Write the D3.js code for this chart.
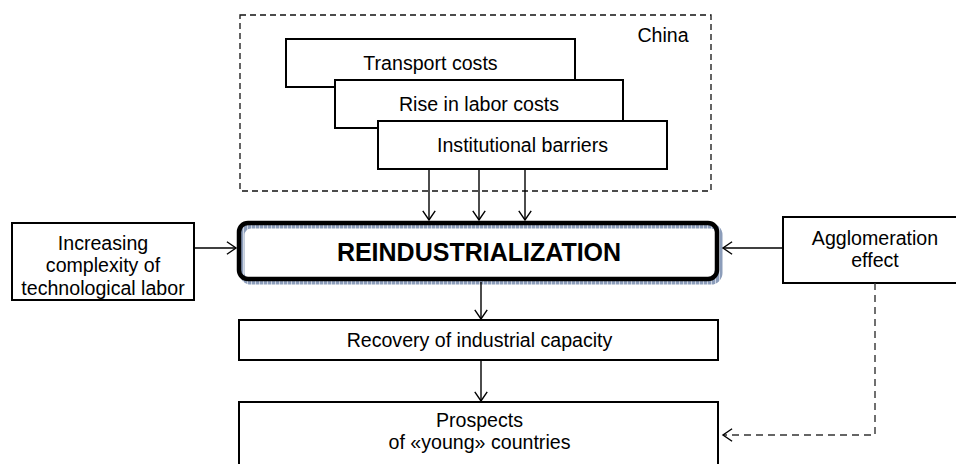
<!DOCTYPE html>
<html>
<head>
<meta charset="utf-8">
<script src="https://cdn.jsdelivr.net/npm/d3@7"></script>
<style>
  html, body { margin: 0; padding: 0; background: #fff; }
  svg { display: block; font-family: "Liberation Sans", Arial, sans-serif; }
</style>
</head>
<body>
<div id="chart"></div>
<script>
// labels of the diagram
var regionLabel = "China";
var chinaFactors = ["Transport costs", "Rise in labor costs", "Institutional barriers"];
var centerLabel = "REINDUSTRIALIZATION";
var leftLabel = ["Increasing", "complexity of", "technological labor"];
var rightLabel = ["Agglomeration", "effect"];
var chainLabels = [["Recovery of industrial capacity"], ["Prospects", "of \u00abyoung\u00bb countries"]];

var W = 956, H = 464;
var svg = d3.select("#chart").append("svg").attr("width", W).attr("height", H);

// layout (pixel positions)
var china = {x: 240, y: 15, w: 471, h: 176};
var stack = [{x: 286, y: 39, w: 289, h: 48}, {x: 335, y: 80, w: 288, h: 48}, {x: 378, y: 121, w: 289, h: 48}];
var center = {x: 239, y: 223, w: 478, h: 56};
var leftBox = {x: 12, y: 223, w: 182, h: 77};
var rightBox = {x: 783, y: 217, w: 184, h: 66};
var chain = [{x: 239, y: 320, w: 479, h: 40}, {x: 239, y: 402, w: 479, h: 75}];
var fs = 19.6, lh = 22.5;

var defs = svg.append("defs");
var pat = defs.append("pattern").attr("id", "hatch")
  .attr("patternUnits", "userSpaceOnUse").attr("width", 4).attr("height", 4);
pat.append("rect").attr("width", 4).attr("height", 4).attr("fill", "#8c9dba");
pat.append("rect").attr("x", 3).attr("width", 1).attr("height", 4).attr("fill", "#cfd7e4");

function box(b, sw) {
  svg.append("rect").attr("x", b.x).attr("y", b.y).attr("width", b.w).attr("height", b.h)
    .attr("fill", "#fff").attr("stroke", "#000").attr("stroke-width", sw || 2);
}
function label(lines, cx, cy, size, weight) {
  var t = svg.append("text").attr("text-anchor", "middle")
    .attr("font-size", size || fs).attr("font-weight", weight || "normal").attr("fill", "#000");
  var n = lines.length;
  lines.forEach(function(s, i) {
    t.append("tspan").attr("x", cx)
      .attr("y", cy + (i - (n - 1) / 2) * lh).attr("dy", "0.35em").text(s);
  });
}
function arrow(pts, dashed) {
  svg.append("path").attr("d", d3.line()(pts)).attr("fill", "none")
    .attr("stroke", dashed ? "#333" : "#000").attr("stroke-width", 1.4)
    .attr("stroke-dasharray", dashed ? "7,5" : null);
  var p = pts[pts.length - 1], q = pts[pts.length - 2];
  var a = Math.atan2(p[1] - q[1], p[0] - q[0]), L = 11, s = 0.6;
  var head = [[p[0] - L * Math.cos(a - s), p[1] - L * Math.sin(a - s)], p,
              [p[0] - L * Math.cos(a + s), p[1] - L * Math.sin(a + s)]];
  svg.append("path").attr("d", d3.line()(head)).attr("fill", "none")
    .attr("stroke", "#000").attr("stroke-width", 1.4);
}

// China region
svg.append("rect").attr("x", china.x).attr("y", china.y).attr("width", china.w).attr("height", china.h)
  .attr("fill", "none").attr("stroke", "#111").attr("stroke-width", 1.3).attr("stroke-dasharray", "6,4");
label([regionLabel], 663, 35);

stack.forEach(function(b, i) {
  box(b);
  label([chinaFactors[i]], b.x + b.w / 2, b.y + b.h / 2);
});

// arrows into the central box
var last = stack[stack.length - 1];
[429, 479, 525].forEach(function(x) { arrow([[x, last.y + last.h + 1], [x, center.y - 3]]); });

// central box with hatched shadow
svg.append("rect").attr("x", center.x + 3).attr("y", center.y + 3).attr("width", center.w).attr("height", center.h)
  .attr("rx", 9).attr("fill", "none").attr("stroke", "url(#hatch)").attr("stroke-width", 5);
svg.append("rect").attr("x", center.x).attr("y", center.y).attr("width", center.w).attr("height", center.h)
  .attr("rx", 9).attr("fill", "none").attr("stroke", "#000").attr("stroke-width", 4.5);
label([centerLabel], center.x + center.w / 2 + 1, center.y + center.h / 2 + 1, 25, "bold");

// side boxes
box(leftBox);
label(leftLabel, leftBox.x + leftBox.w / 2, leftBox.y + leftBox.h / 2 + 4);
arrow([[leftBox.x + leftBox.w, 248], [center.x - 3, 248]]);

box(rightBox);
label(rightLabel, rightBox.x + rightBox.w / 2, rightBox.y + rightBox.h / 2 - 1);
arrow([[rightBox.x, 248], [center.x + center.w + 6, 248]]);

// chain below
chain.forEach(function(b, i) {
  box(b);
  var cy = i === 0 ? b.y + b.h / 2 : b.y + 29;
  label(chainLabels[i], b.x + b.w / 2 + 1, cy);
});
arrow([[481, center.y + center.h + 3], [481, chain[0].y - 1]]);
arrow([[481, chain[0].y + chain[0].h], [481, chain[1].y - 1]]);

// dashed link from agglomeration effect
arrow([[875, rightBox.y + rightBox.h], [875, 435], [chain[1].x + chain[1].w + 5, 435]], true);
</script>
</body>
</html>
